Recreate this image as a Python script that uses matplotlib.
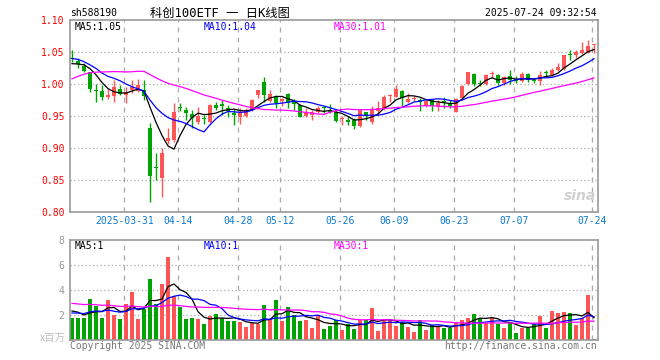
import numpy as np
import pandas as pd
import matplotlib
matplotlib.use("Agg")
import matplotlib.pyplot as plt

# closes / volumes before the visible window (only used for the moving averages)
pre_close = [0.915, 0.920, 0.925, 0.960, 0.970, 0.975, 0.985, 0.990, 1.000,
             0.985, 0.975, 0.985, 1.010, 1.020, 1.030, 1.035, 1.040, 1.035,
             1.040, 1.048, 1.046, 1.056, 1.042, 1.044, 1.052, 1.034, 1.027,
             1.022, 1.037]
pre_vol = [3.0, 3.4, 2.8, 3.6, 3.1, 2.9, 3.5, 3.2, 2.7, 3.3, 3.0, 3.4, 3.0,
           3.8, 4.2, 3.5, 3.3, 3.9, 3.6, 3.1, 1.8, 2.2, 1.9, 2.1, 2.0,
           2.2, 2.9, 2.5, 2.27]

opens = [1.040, 1.036, 1.028, 1.018, 0.990, 0.989, 0.979, 0.982, 0.992, 0.983,
         0.990, 0.989, 0.991, 0.932, 0.870, 0.853, 0.911, 0.912, 0.964, 0.959,
         0.953, 0.941, 0.947, 0.941, 0.967, 0.969, 0.963, 0.955, 0.949, 0.950,
         0.959, 0.983, 1.003, 0.974, 0.981, 0.974, 0.984, 0.974, 0.967, 0.950,
         0.9516, 0.957, 0.9625, 0.960, 0.957, 0.945, 0.944, 0.943, 0.934, 0.956,
         0.941, 0.958, 0.962, 0.981, 0.980, 0.989, 0.972, 0.977, 0.975, 0.966,
         0.975, 0.966, 0.9725, 0.970, 0.957, 0.978, 1.000, 1.016, 1.001, 1.000,
         1.015, 1.014, 1.001, 1.013, 1.007, 1.004, 1.016, 1.006, 1.005, 1.018,
         1.014, 1.022, 1.023, 1.046, 1.045, 1.048, 1.048, 1.061]
highs = [1.053, 1.040, 1.033, 1.019, 0.9995, 0.998, 0.992, 1.006, 0.998, 0.996,
         1.006, 1.008, 1.007, 0.939, 0.892, 0.900, 0.932, 0.971, 0.970, 0.964,
         0.960, 0.964, 0.951, 0.968, 0.972, 0.975, 0.967, 0.961, 0.962, 0.962,
         0.977, 0.991, 1.011, 0.991, 0.983, 0.978, 0.986, 0.976, 0.969, 0.962,
         0.960, 0.966, 0.965, 0.969, 0.958, 0.950, 0.950, 0.947, 0.961, 0.957,
         0.966, 0.974, 0.983, 0.984, 0.998, 0.990, 0.986, 0.981, 0.978, 0.976,
         0.976, 0.975, 0.980, 0.975, 0.978, 0.998, 1.019, 1.017, 1.006, 1.016,
         1.021, 1.016, 1.013, 1.022, 1.012, 1.018, 1.017, 1.010, 1.020, 1.022,
         1.025, 1.033, 1.046, 1.053, 1.053, 1.065, 1.068, 1.062]
lows = [1.035, 1.025, 1.019, 0.987, 0.972, 0.9745, 0.977, 0.972, 0.983, 0.970,
        0.986, 0.987, 0.975, 0.816, 0.850, 0.823, 0.906, 0.909, 0.958, 0.943,
        0.932, 0.938, 0.937, 0.939, 0.959, 0.952, 0.949, 0.936, 0.937, 0.948,
        0.958, 0.978, 0.972, 0.972, 0.962, 0.966, 0.962, 0.960, 0.948, 0.948,
        0.944, 0.954, 0.955, 0.954, 0.941, 0.936, 0.936, 0.930, 0.933, 0.944,
        0.938, 0.953, 0.959, 0.972, 0.979, 0.966, 0.970, 0.973, 0.958, 0.964,
        0.958, 0.958, 0.963, 0.963, 0.956, 0.976, 0.998, 0.997, 0.997, 0.998,
        1.010, 0.998, 0.998, 1.000, 1.002, 1.003, 1.003, 1.001, 0.999, 1.013,
        1.013, 1.021, 1.022, 1.038, 1.041, 1.047, 1.048, 1.048]
closes = [1.039, 1.031, 1.021, 0.992, 0.989, 0.979, 0.983, 0.996, 0.984, 0.987,
          0.995, 0.998, 0.982, 0.857, 0.869, 0.892, 0.916, 0.957, 0.963, 0.955,
          0.947, 0.950, 0.946, 0.967, 0.963, 0.965, 0.958, 0.951, 0.956, 0.959,
          0.975, 0.990, 0.983, 0.984, 0.970, 0.976, 0.971, 0.969, 0.949, 0.955,
          0.957, 0.963, 0.962, 0.957, 0.942, 0.946, 0.940, 0.934, 0.959, 0.950,
          0.960, 0.962, 0.980, 0.982, 0.992, 0.978, 0.977, 0.978, 0.972, 0.973,
          0.966, 0.971, 0.972, 0.965, 0.976, 0.997, 1.018, 1.000, 1.000, 1.014,
          1.016, 1.001, 1.011, 1.006, 1.004, 1.016, 1.007, 1.005, 1.014, 1.017,
          1.022, 1.027, 1.045, 1.045, 1.050, 1.053, 1.059, 1.062]
volumes = [1.73, 1.73, 1.79, 3.31, 2.72, 1.79, 3.23, 1.97, 1.71, 2.85,
           3.87, 1.71, 2.45, 4.91, 2.85, 4.45, 6.67, 3.52, 2.67, 1.71,
           1.79, 1.65, 1.31, 1.92, 2.11, 1.79, 1.52, 1.52, 1.44, 1.04,
           1.39, 1.31, 2.80, 1.65, 3.23, 1.52, 2.64, 2.00, 1.52, 1.63,
           0.99, 1.97, 0.91, 1.10, 1.57, 0.83, 1.31, 0.91, 1.57, 1.57,
           2.59, 0.75, 1.57, 1.57, 1.15, 1.47, 1.07, 0.67, 1.63, 0.83,
           1.20, 1.07, 0.99, 0.99, 1.47, 1.57, 1.79, 2.11, 1.79, 1.39,
           1.87, 1.31, 0.99, 1.47, 0.59, 0.99, 0.99, 1.31, 1.95, 0.99,
           2.35, 2.19, 2.27, 2.19, 1.17, 1.79, 3.63, 0.11]

date_labels = ['2025-03-31', '04-14', '04-28', '05-12', '05-26',
               '06-09', '06-23', '07-07', '07-24']
date_idx = [9, 18, 28, 35, 45, 54, 64, 74, 87]

RED = '#ff5555'
GREEN = '#00a400'
MONO = 'DejaVu Sans Mono'
MIXED = ['DejaVu Sans Mono', 'Noto Sans CJK SC']

n = len(closes)
x = np.arange(n)
o = np.array(opens)
c = np.array(closes)
h = np.array(highs)
l = np.array(lows)
v = np.array(volumes)
up = c >= o
cols = np.where(up, RED, GREEN)

allc = pd.Series(pre_close + closes)
allv = pd.Series(pre_vol + volumes)
k = len(pre_close)
ma = {p: allc.rolling(p).mean().values[k:] for p in (5, 10, 30)}
kv = len(pre_vol)
mav = {p: allv.rolling(p).mean().values[kv:] for p in (5, 10, 30)}

W, H = 660, 360
fig = plt.figure(figsize=(W / 100, H / 100), dpi=100)
fig.patch.set_facecolor('white')
ax = fig.add_axes([70 / W, 1 - 212 / H, 528 / W, 192 / H])
axv = fig.add_axes([70 / W, 1 - 340 / H, 528 / W, 100 / H])

grid_x = np.array(date_idx) - 0.25
for a in (ax, axv):
    a.set_xlim(-0.33, n - 0.33)
    for s in a.spines.values():
        s.set_color('#999999')
        s.set_linewidth(1.2)
    for gx in grid_x:
        a.axvline(gx, color='#aaaaaa', lw=0.9, ls=(0, (4, 4)), zorder=0)
    a.tick_params(length=0)

# candles
ax.vlines(x, l, h, colors=cols, lw=1, zorder=2)
body = np.maximum(np.abs(c - o), 0.0016)
ax.bar(x, body, bottom=np.minimum(o, c), width=0.76, color=cols, zorder=3)
ax.plot(x, ma[5], color='black', lw=0.9, zorder=4)
ax.plot(x, ma[10], color='#0000ff', lw=0.9, zorder=4)
ax.plot(x, ma[30], color='#ff00ff', lw=0.9, zorder=4)

ax.set_ylim(0.80, 1.10)
yt = np.arange(0.80, 1.101, 0.05)
ax.set_yticks(yt)
ax.set_yticklabels(['%.2f' % t for t in yt], fontfamily=MONO, fontsize=7, color='#ff0000')
for t in yt[1:-1]:
    ax.axhline(t, color='#aaaaaa', lw=0.9, ls=(0, (1, 2)), zorder=0)
ax.set_xticks(grid_x)
ax.set_xticklabels(date_labels, fontfamily=MONO, fontsize=7, color='#0a7ad0')
ax.tick_params(axis='x', pad=3)
ax.tick_params(axis='y', pad=4)

# volume
axv.bar(x, v, width=0.82, color=cols, zorder=2)
axv.plot(x, mav[5], color='black', lw=0.9, zorder=4)
axv.plot(x, mav[10], color='#0000ff', lw=0.9, zorder=4)
axv.plot(x, mav[30], color='#ff00ff', lw=0.9, zorder=4)
axv.set_ylim(0, 8)
axv.set_yticks([2, 4, 6, 8])
axv.set_yticklabels(['2', '4', '6', '8'], fontfamily=MONO, fontsize=7, color='#999999')
for t in (2, 4, 6):
    axv.axhline(t, color='#aaaaaa', lw=0.9, ls=(0, (1, 2)), zorder=0)
axv.set_xticks([])
axv.tick_params(axis='y', pad=4)


def ftext(px, py, s, **kw):
    fig.text(px / W, 1 - py / H, s, va='center', **kw)


ftext(70, 13, 'sh588190', fontfamily=MONO, fontsize=7, color='black')
ftext(220, 13, '科创100ETF 一 日K线图', fontfamily=MIXED, fontsize=8.8,
      color='black', ha='center')
ftext(597, 13, '2025-07-24 09:32:54', fontfamily=MONO, fontsize=7,
      color='black', ha='right')

ftext(75, 27, 'MA5:%.2f' % ma[5][-1], fontfamily=MONO, fontsize=7, color='black')
ftext(204, 27, 'MA10:%.2f' % ma[10][-1], fontfamily=MONO, fontsize=7, color='#0000ff')
ftext(334, 27, 'MA30:%.2f' % ma[30][-1], fontfamily=MONO, fontsize=7, color='#ff00ff')

ftext(75, 246, 'MA5:%d' % int(mav[5][-1]), fontfamily=MONO, fontsize=7, color='black')
ftext(204, 246, 'MA10:%d' % int(mav[10][-1]), fontfamily=MONO, fontsize=7, color='#0000ff')
ftext(334, 246, 'MA30:%d' % int(mav[30][-1]), fontfamily=MONO, fontsize=7, color='#ff00ff')

ftext(66, 338, 'x百万', fontfamily=['Noto Sans CJK SC', 'DejaVu Sans'], fontsize=7.5,
      color='#c0c0c0', ha='right')
ftext(70, 346, 'Copyright 2025 SINA.COM', fontfamily=MONO, fontsize=7, color='#777777')
ftext(597, 346, 'http://finance.sina.com.cn', fontfamily=MONO, fontsize=7,
      color='#777777', ha='right')

# sina watermark
ftext(596, 196, 'sina', fontfamily='DejaVu Sans', fontsize=10, fontweight='bold',
      fontstyle='italic', color='#d0d0d0', ha='right', zorder=1)

fig.savefig('out.png', dpi=100)
